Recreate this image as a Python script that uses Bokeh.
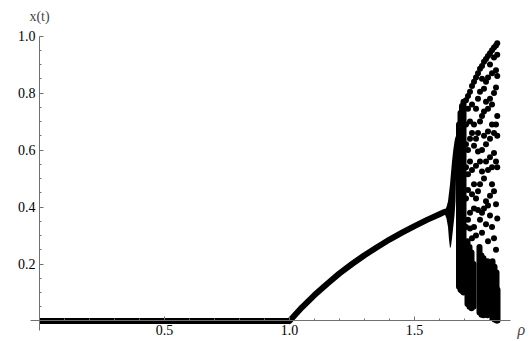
from bokeh.plotting import figure
from bokeh.models import LinearAxis, FixedTicker, Label
from bokeh.embed import file_html
from bokeh.resources import INLINE

# Fixed points: x = 0 below the transcritical point, then the rising branch
rho_zero = [0.00, 0.25, 0.50, 0.75, 1.00]
x_zero = [0.0, 0.0, 0.0, 0.0, 0.0]

rho_fixed = [1.00, 1.05, 1.10, 1.15, 1.20, 1.25, 1.30, 1.35, 1.40, 1.45, 1.50, 1.55, 1.60, 1.62]
x_fixed = [0.000, 0.048, 0.091, 0.130, 0.167, 0.200, 0.231, 0.259, 0.286, 0.310, 0.333, 0.355, 0.375, 0.383]

# Quasi-periodic band right after the Hopf point (filled range per rho)
rho_band = [1.620, 1.628, 1.634, 1.638, 1.642, 1.646, 1.650, 1.655, 1.660, 1.664, 1.666]
x_band_lo = [0.378, 0.360, 0.330, 0.285, 0.255, 0.262, 0.290, 0.330, 0.370, 0.420, 0.500]
x_band_hi = [0.388, 0.400, 0.420, 0.450, 0.480, 0.520, 0.560, 0.600, 0.630, 0.650, 0.640]

# Dense streaks in the chaotic region
rho_streak = [1.678, 1.684, 1.690, 1.696,
              1.712, 1.720, 1.728, 1.736,
              1.760, 1.768, 1.776, 1.784, 1.792,
              1.812, 1.820, 1.828, 1.832]
x_streak_lo = [0.120, 0.110, 0.105, 0.100,
               0.060, 0.050, 0.045, 0.050,
               0.030, 0.022, 0.020, 0.025, 0.020,
               0.010, 0.005, 0.002, 0.002]
x_streak_hi = [0.690, 0.730, 0.755, 0.770,
               0.280, 0.260, 0.240, 0.200,
               0.260, 0.230, 0.220, 0.190, 0.210,
               0.210, 0.190, 0.170, 0.110]

# Scattered iterates in the chaotic region, one list per rho column
rho_cols = [1.706, 1.714, 1.722, 1.730, 1.738, 1.746, 1.754, 1.762,
            1.770, 1.778, 1.786, 1.794, 1.802, 1.810, 1.818, 1.826, 1.831]
x_cols = [
    [0.775, 0.690, 0.620, 0.540, 0.430, 0.330],
    [0.790, 0.745, 0.600, 0.515, 0.460, 0.355],
    [0.805, 0.700, 0.640, 0.560, 0.380, 0.325],
    [0.825, 0.760, 0.660, 0.530, 0.445, 0.290],
    [0.840, 0.690, 0.615, 0.480, 0.395, 0.330],
    [0.855, 0.745, 0.640, 0.545, 0.430, 0.300],
    [0.870, 0.780, 0.660, 0.595, 0.455, 0.390],
    [0.885, 0.805, 0.700, 0.560, 0.480, 0.355],
    [0.895, 0.850, 0.720, 0.600, 0.525, 0.380, 0.310],
    [0.910, 0.815, 0.735, 0.650, 0.500, 0.395],
    [0.920, 0.840, 0.770, 0.620, 0.560, 0.420, 0.340],
    [0.930, 0.855, 0.745, 0.665, 0.530, 0.405, 0.280],
    [0.940, 0.900, 0.780, 0.640, 0.575, 0.440, 0.370],
    [0.950, 0.870, 0.760, 0.690, 0.540, 0.480, 0.330],
    [0.960, 0.925, 0.800, 0.660, 0.590, 0.455, 0.290],
    [0.967, 0.880, 0.820, 0.690, 0.560, 0.410, 0.250],
    [0.975, 0.935, 0.860, 0.720, 0.650, 0.540, 0.360],
]
rho_dots = [r for r, col in zip(rho_cols, x_cols) for _ in col]
x_dots = [v for col in x_cols for v in col]

p = figure(
    width=529, height=341,
    x_range=(-0.156, 1.960), y_range=(-0.072, 1.125),
    x_axis_location=None, y_axis_location=None,
    min_border=0, outline_line_color=None,
    toolbar_location=None, output_backend="svg",
)
p.grid.visible = False

ink = "#000000"
p.line(rho_zero, x_zero, line_width=6, line_color=ink)
p.line(rho_fixed, x_fixed, line_width=6, line_color=ink, line_cap="round")
p.varea(x=rho_band, y1=x_band_lo, y2=x_band_hi, fill_color=ink)
p.segment(x0=rho_streak, y0=x_streak_lo, x1=rho_streak, y1=x_streak_hi,
          line_width=6, line_color=ink, line_cap="round")
p.scatter(rho_dots, x_dots, size=6, fill_color=ink, line_color=None)

axis_color = "#707070"
serif = "Liberation Serif"

xaxis = LinearAxis(
    fixed_location=0, bounds=(-0.035, 1.885),
    ticker=FixedTicker(ticks=[0.5, 1.0, 1.5],
                       minor_ticks=[round(0.1 * i, 1) for i in range(1, 19)]),
    major_label_overrides={0.5: "0.5", 1.0: "1.0", 1.5: "1.5"},
)
yaxis = LinearAxis(
    fixed_location=0, bounds=(-0.035, 1.0),
    ticker=FixedTicker(ticks=[0.2, 0.4, 0.6, 0.8, 1.0],
                       minor_ticks=[round(0.05 * i, 2) for i in range(1, 20)]),
    major_label_overrides={0.2: "0.2", 0.4: "0.4", 0.6: "0.6", 0.8: "0.8", 1.0: "1.0"},
)
for ax in (xaxis, yaxis):
    ax.axis_line_color = axis_color
    ax.axis_line_width = 1
    ax.major_tick_line_color = axis_color
    ax.minor_tick_line_color = axis_color
    ax.major_tick_in = 4
    ax.major_tick_out = 0
    ax.minor_tick_in = 2
    ax.minor_tick_out = 0
    ax.major_label_text_font = serif
    ax.major_label_text_font_size = "14px"
    ax.major_label_text_color = "#000000"
    ax.major_label_standoff = 4
p.add_layout(xaxis, "below")
p.add_layout(yaxis, "left")

p.add_layout(Label(x=0.0, y=1.07, text="x(t)", text_font=serif,
                   text_font_size="14px", text_align="center", text_baseline="middle"))
p.add_layout(Label(x=1.912, y=-0.03, text="ρ", text_font=serif,
                   text_font_style="italic", text_font_size="16px",
                   text_align="left", text_baseline="middle"))

open("out.html", "w").write(file_html(p, INLINE))
